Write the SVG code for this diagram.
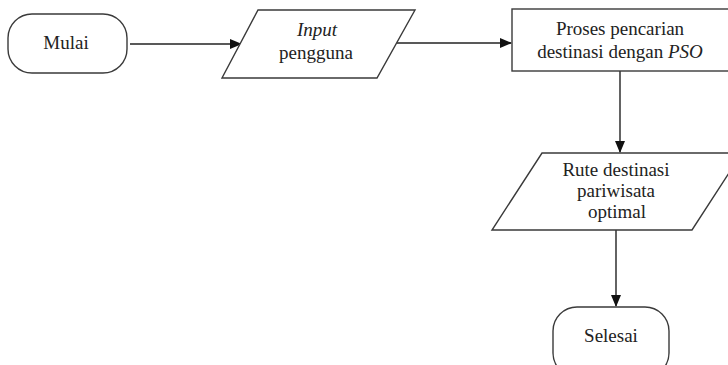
<svg xmlns="http://www.w3.org/2000/svg" width="728" height="365" viewBox="0 0 728 365">
<style>
.s{fill:#fff;stroke:#3a3a3a;stroke-width:1.4}
.t{font-family:"Liberation Serif","Times New Roman",serif;font-size:19px;fill:#222;text-anchor:middle}
.c{stroke:#222;stroke-width:1.4;fill:none;marker-end:url(#ah)}
</style>
<defs>
<marker id="ah" markerWidth="12" markerHeight="10" refX="11" refY="5" orient="auto" markerUnits="userSpaceOnUse">
<path d="M0,0 L12,5 L0,10 Z" fill="#111"/>
</marker>
</defs>
<rect width="728" height="365" fill="#fff"/>
<g id="connectors">
<line class="c" x1="130" y1="44" x2="241" y2="44"/>
<line class="c" x1="397" y1="43" x2="511" y2="43"/>
<line class="c" x1="620" y1="71" x2="620" y2="152"/>
<line class="c" x1="616" y1="230" x2="616" y2="306"/>
</g>
<g id="mulai">
<rect class="s" x="8" y="14" width="119" height="59" rx="24" ry="24"/>
<text class="t" x="66" y="49">Mulai</text>
</g>
<g id="input">
<polygon class="s" points="258,10 415,10 377,78 222,78"/>
<text class="t" x="317" y="36" font-style="italic">Input</text>
<text class="t" x="316" y="59">pengguna</text>
</g>
<g id="proses">
<rect class="s" x="512" y="9" width="230" height="62"/>
<text class="t" x="620" y="35">Proses pencarian</text>
<text class="t" x="620" y="58">destinasi dengan <tspan font-style="italic">PSO</tspan></text>
</g>
<g id="rute">
<polygon class="s" points="542,153 742,153 692,230 492,230"/>
<text class="t" x="616" y="176">Rute destinasi</text>
<text class="t" x="616" y="197">pariwisata</text>
<text class="t" x="617" y="218">optimal</text>
</g>
<g id="selesai">
<rect class="s" x="553" y="307" width="116" height="70" rx="24" ry="24"/>
<text class="t" x="611" y="342">Selesai</text>
</g>
</svg>
